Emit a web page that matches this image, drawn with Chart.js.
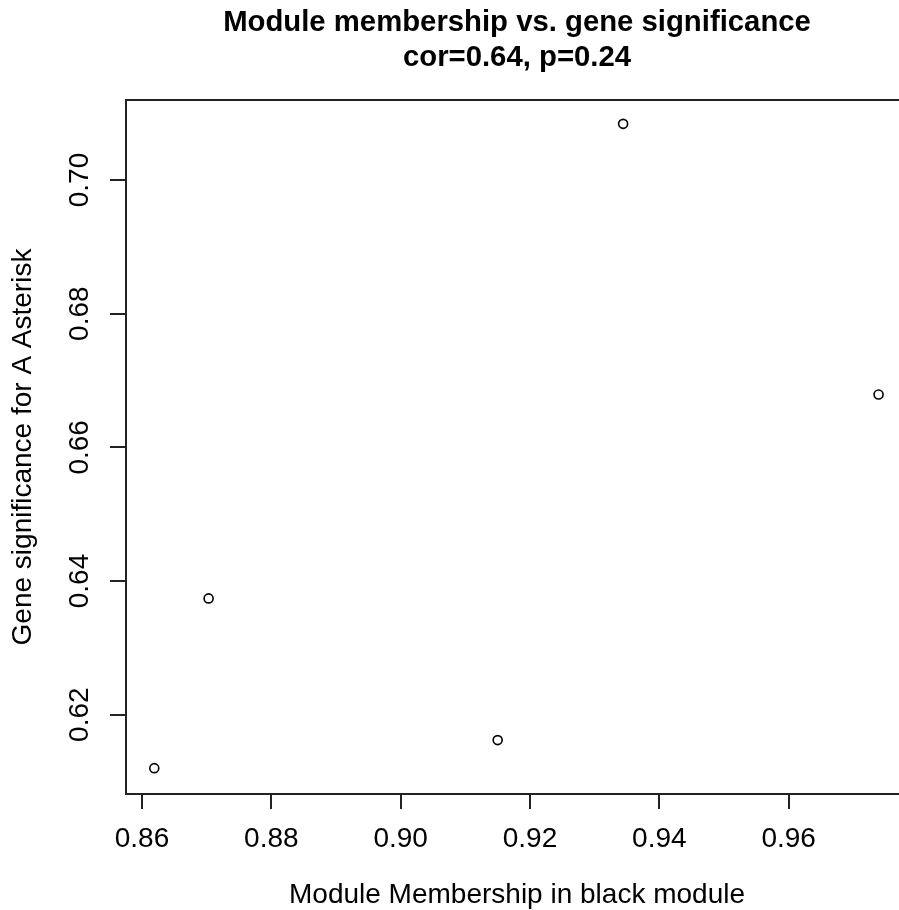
<!DOCTYPE html>
<html>
<head>
<meta charset="utf-8">
<script src="https://cdn.jsdelivr.net/npm/chart.js@4/dist/chart.umd.min.js"></script>
<style>
  html, body { margin: 0; padding: 0; background: #fff; overflow: hidden; }
  #wrap { width: 899px; height: 910px; overflow: hidden; position: relative; }
  canvas { display: block; }
</style>
</head>
<body>
<div id="wrap"><canvas id="c" width="920" height="910"></canvas></div>
<script>
// ---- data ----
const moduleMembership = [0.8619, 0.8703, 0.9150, 0.9344, 0.9739];
const geneSignificance = [0.6120, 0.6374, 0.6162, 0.7084, 0.6679];
const xTickValues = [0.86, 0.88, 0.90, 0.92, 0.94, 0.96];
const yTickValues = [0.62, 0.64, 0.66, 0.68, 0.70];
const titleLines = ['Module membership vs. gene significance', 'cor=0.64, p=0.24'];
const xAxisTitle = 'Module Membership in black module';
const yAxisTitle = 'Gene significance for A Asterisk';
const xRange = [0.857526, 0.97845];
const yRange = [0.608135, 0.711969];

const FONT = "'Liberation Sans', Arial, Helvetica, sans-serif";
const INK = '#000';
const LINE = '#222';

const points = moduleMembership.map((x, i) => ({ x: x, y: geneSignificance[i] }));

// R-style box around the plot region (its right side lies just past the visible window, as in the reference)
const boxPlugin = {
  id: 'rbox',
  afterDraw(chart) {
    const { ctx, chartArea: a } = chart;
    ctx.save();
    ctx.strokeStyle = LINE;
    ctx.lineWidth = 2;
    ctx.strokeRect(Math.round(a.left), Math.round(a.top), Math.round(a.right - a.left), Math.round(a.bottom - a.top));
    ctx.restore();
  }
};

new Chart(document.getElementById('c'), {
  type: 'scatter',
  data: {
    datasets: [{
      data: points,
      pointStyle: 'circle',
      pointRadius: 4.5,
      pointBorderWidth: 1.6,
      pointBorderColor: INK,
      pointBackgroundColor: 'rgba(0,0,0,0)',
      showLine: false
    }]
  },
  options: {
    responsive: false,
    animation: false,
    events: [],
    devicePixelRatio: 1,
    layout: { padding: { left: 0, right: 12, top: 0, bottom: 0 } },
    plugins: {
      legend: { display: false },
      tooltip: { enabled: false },
      title: {
        display: true,
        fullSize: false,
        text: titleLines,
        color: INK,
        font: { family: FONT, size: 29.3, weight: 'bold', lineHeight: '34.5px' },
        padding: { top: 6, bottom: 25 }
      }
    },
    scales: {
      x: {
        type: 'linear',
        position: 'bottom',
        min: xRange[0],
        max: xRange[1],
        afterBuildTicks: s => { s.ticks = xTickValues.map(v => ({ value: v })); },
        afterFit: s => { s.height = 116; },
        border: { display: false },
        grid: { drawOnChartArea: false, drawTicks: true, tickLength: 15, color: LINE, lineWidth: 2 },
        ticks: {
          color: INK,
          font: { family: FONT, size: 28, lineHeight: 1.2 },
          padding: 13,
          maxRotation: 0,
          minRotation: 0,
          callback: v => Number(v).toFixed(2)
        },
        title: {
          display: true,
          text: xAxisTitle,
          color: INK,
          font: { family: FONT, size: 28, lineHeight: 1 },
          padding: { top: 0, bottom: 0.7 }
        }
      },
      y: {
        type: 'linear',
        position: 'left',
        min: yRange[0],
        max: yRange[1],
        afterBuildTicks: s => { s.ticks = yTickValues.map(v => ({ value: v })); },
        afterFit: s => { s.width = 126; },
        border: { display: false },
        grid: { drawOnChartArea: false, drawTicks: true, tickLength: 16, color: LINE, lineWidth: 2 },
        ticks: {
          color: INK,
          font: { family: FONT, size: 28, lineHeight: 1.2 },
          padding: 2.5,
          minRotation: 90,
          maxRotation: 90,
          crossAlign: 'center',
          callback: v => Number(v).toFixed(2)
        },
        title: {
          display: true,
          text: yAxisTitle,
          color: INK,
          font: { family: FONT, size: 28, lineHeight: 1 },
          padding: { top: 9.3, bottom: 0 }
        }
      }
    }
  },
  plugins: [boxPlugin]
});
</script>
</body>
</html>
